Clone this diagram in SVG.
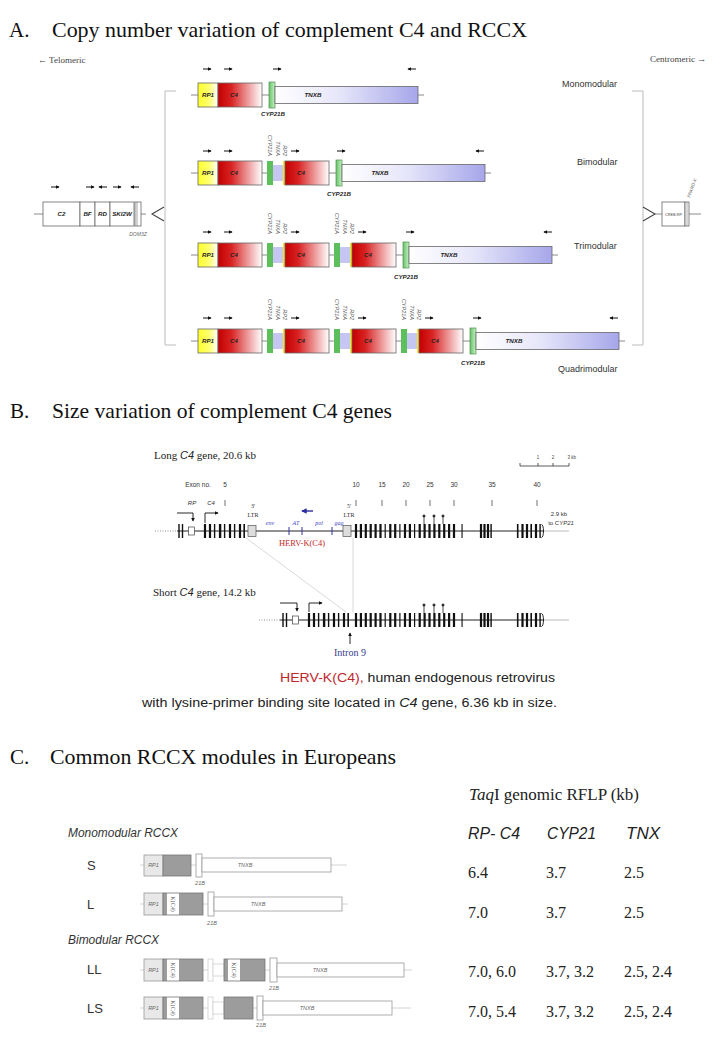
<svg xmlns="http://www.w3.org/2000/svg" width="726" height="1050" viewBox="0 0 726 1050">
<defs>
<linearGradient id="gY" x1="0" x2="1" y1="0" y2="0"><stop offset="0" stop-color="#ffff2a"/><stop offset="0.55" stop-color="#ffff70"/><stop offset="1" stop-color="#ffffff"/></linearGradient>
<linearGradient id="gR" x1="0" x2="1" y1="0" y2="0"><stop offset="0" stop-color="#c40000"/><stop offset="0.3" stop-color="#d82222"/><stop offset="1" stop-color="#ffffff"/></linearGradient>
<linearGradient id="gT" x1="0" x2="1" y1="0" y2="0"><stop offset="0" stop-color="#ffffff"/><stop offset="0.45" stop-color="#e6e6fa"/><stop offset="1" stop-color="#a6a6ea"/></linearGradient>
<linearGradient id="gG" x1="0" x2="1" y1="0" y2="0"><stop offset="0" stop-color="#66c266"/><stop offset="1" stop-color="#c8f0c8"/></linearGradient>
<marker id="ah" viewBox="0 0 6 6" refX="5" refY="3" markerWidth="4" markerHeight="4" orient="auto"><path d="M0,0L6,3L0,6z" fill="#111"/></marker>
<marker id="ahb" viewBox="0 0 6 6" refX="5" refY="3" markerWidth="4" markerHeight="4" orient="auto"><path d="M0,0L6,3L0,6z" fill="#2c2ca0"/></marker>
<style>
.ttl{font-family:"Liberation Serif",serif;font-size:21px;fill:#111}
.ln{stroke:#8a8a8a;stroke-width:1;fill:none}
.bx{stroke:#666;stroke-width:0.8}
.rp{fill:url(#gY)}.c4{fill:url(#gR)}.tn{fill:url(#gT)}
.cyb{fill:url(#gG);stroke:#4f8f4f;stroke-width:0.7}
.cya{fill:#5cbf5c}.tna{fill:#c6c6f2}.rp2{fill:#f2e23a}
.wb{fill:#fff;stroke:#666;stroke-width:0.8}
.gl{font-family:"Liberation Sans",sans-serif;font-size:6.2px;font-style:italic;font-weight:bold;fill:#222;text-anchor:middle}
.rl{font-family:"Liberation Sans",sans-serif;font-size:5.5px;font-style:italic;fill:#555;text-anchor:end}
.da{stroke:#111;stroke-width:1;fill:none;marker-end:url(#ah)}
.mod{font-family:"Liberation Sans",sans-serif;font-size:9px;fill:#333}
.tiny{font-family:"Liberation Serif",serif;font-size:9px;fill:#444}
.ar{font-family:"Liberation Sans",sans-serif;font-size:6.5px;fill:#333;text-anchor:middle}
.ari{font-family:"Liberation Sans",sans-serif;font-size:6px;font-style:italic;fill:#333;text-anchor:middle}
.ltr{font-family:"Liberation Serif",serif;font-size:6px;fill:#333;text-anchor:middle}
.hv{font-family:"Liberation Serif",serif;font-size:6px;font-style:italic;fill:#4444bb;text-anchor:middle}
.ex{fill:#111}
.bk{stroke:#111;stroke-width:0.9;fill:none;marker-end:url(#ah)}
.gs{font-family:"Liberation Serif",serif;font-size:11px;fill:#222}
.cap{font-family:"Liberation Sans",sans-serif;font-size:12px;fill:#222}
.val{font-family:"Liberation Serif",serif;font-size:16px;fill:#222}
.hdr{font-family:"Liberation Sans",sans-serif;font-size:17px;font-style:italic;fill:#222}
.grp{font-family:"Liberation Sans",sans-serif;font-size:12px;font-style:italic;fill:#333}
.rowl{font-family:"Liberation Sans",sans-serif;font-size:13px;fill:#333}
.cl{stroke:#d4d4d4;stroke-width:1;fill:none}
.crp{fill:#e8e8e8;stroke:#999;stroke-width:0.8}
.cc4{fill:#9c9c9c;stroke:#777;stroke-width:0.8}
.cw{fill:#fff;stroke:#999;stroke-width:0.8}
.cf{fill:#fff;stroke:#d0d0d0;stroke-width:0.8}
.cs{fill:#fff}
.clab{font-family:"Liberation Sans",sans-serif;font-size:5.5px;font-style:italic;fill:#666;text-anchor:middle}
.kc{font-family:"Liberation Serif",serif;font-size:6px;fill:#555;text-anchor:middle}
</style>
<g id="exPre">
<rect class="ex" x="178.3" y="0" width="1.4" height="14"/>
<rect class="ex" x="181.8" y="0" width="1.4" height="14"/>
<rect x="188.5" y="3" width="6" height="8" fill="#fff" stroke="#444" stroke-width="0.7"/>
<rect class="ex" x="203.9" y="0" width="2.2" height="14"/>
<rect class="ex" x="208.9" y="0" width="2.2" height="14"/>
<rect class="ex" x="213.9" y="0" width="1.4" height="14"/>
<rect class="ex" x="218.9" y="0" width="2.4" height="14"/>
<rect class="ex" x="223.9" y="0" width="1.4" height="14"/>
<rect class="ex" x="228.9" y="0" width="2.2" height="14"/>
<rect class="ex" x="233.9" y="0" width="1.4" height="14"/>
<rect class="ex" x="238.9" y="0" width="2.2" height="14"/>
<rect class="ex" x="243.4" y="0" width="1.6" height="14"/>
</g>
<g id="exPost">
<rect class="ex" x="354.9" y="0" width="2.2" height="14"/>
<rect class="ex" x="359.8" y="0" width="2.2" height="14"/>
<rect class="ex" x="364.7" y="0" width="2.2" height="14"/>
<rect class="ex" x="369.6" y="0" width="2.2" height="14"/>
<rect class="ex" x="374.5" y="0" width="2.2" height="14"/>
<rect class="ex" x="379.4" y="0" width="2.2" height="14"/>
<rect class="ex" x="384.6" y="0" width="1.2" height="14"/>
<rect class="ex" x="389.2" y="0" width="2.2" height="14"/>
<rect class="ex" x="394.1" y="0" width="2.2" height="14"/>
<rect class="ex" x="399.3" y="0" width="1.2" height="14"/>
<rect class="ex" x="403.9" y="0" width="2.2" height="14"/>
<rect class="ex" x="408.8" y="0" width="2.2" height="14"/>
<rect class="ex" x="414.0" y="0" width="1.2" height="14"/>
<rect class="ex" x="418.6" y="0" width="2.2" height="14"/>
<rect class="ex" x="423.5" y="0" width="2.2" height="14"/>
<rect class="ex" x="428.4" y="0" width="2.2" height="14"/>
<rect class="ex" x="433.3" y="0" width="2.2" height="14"/>
<rect class="ex" x="438.2" y="0" width="2.2" height="14"/>
<rect class="ex" x="443.1" y="0" width="2.2" height="14"/>
<rect class="ex" x="448.0" y="0" width="2.2" height="14"/>
<rect class="ex" x="452.9" y="0" width="2.2" height="14"/>
<rect class="ex" x="461.5" y="0" width="1.1" height="14"/>
<rect class="ex" x="479.9" y="0" width="2.2" height="14"/>
<rect class="ex" x="483.4" y="0" width="2.2" height="14"/>
<rect class="ex" x="486.9" y="0" width="2.2" height="14"/>
<rect class="ex" x="490.4" y="0" width="1.4" height="14"/>
<rect class="ex" x="516.9" y="0" width="1.6" height="14"/>
<rect class="ex" x="521.4" y="0" width="2.2" height="14"/>
<rect class="ex" x="525.9" y="0" width="2.2" height="14"/>
<rect class="ex" x="530.4" y="0" width="1.6" height="14"/>
<rect class="ex" x="534.9" y="0" width="2.2" height="14"/>
<rect class="ex" x="539.4" y="0" width="1.4" height="14"/>
<path d="M541.5,0.5a2,6.5 0 0 1 0,13" stroke="#111" stroke-width="0.9" fill="none"/>
</g>
<g id="lolli" stroke="#222" stroke-width="0.8" fill="#222">
<path d="M424,0V8M434,0V8M443,0V8"/>
<circle cx="424" cy="0" r="1.1"/><circle cx="434" cy="0" r="1.1"/><circle cx="443" cy="0" r="1.1"/>
</g>
</defs>
<rect width="726" height="1050" fill="#fff"/>

<!-- ===== Section A ===== -->
<g id="titleA">
<text class="ttl" x="9" y="37">A.</text>
<text class="ttl" x="52" y="37" textLength="475" lengthAdjust="spacingAndGlyphs">Copy number variation of complement C4 and RCCX</text>
<text class="tiny" x="38" y="63">← Telomeric</text>
<text class="tiny" x="650" y="62">Centromeric →</text>
</g>

<g id="connectors">
<path d="M176,91H165V345H176" stroke="#bbb" stroke-width="1" fill="none"/>
<path d="M632,91H643V345H632" stroke="#bbb" stroke-width="1" fill="none"/>
<path d="M164,207L152,214L164,221" stroke="#444" stroke-width="1.1" fill="none"/>
<path d="M643,207L655,214L643,221" stroke="#444" stroke-width="1.1" fill="none"/>
<path d="M246,538L346,612" stroke="#c8c8c8" stroke-width="0.7"/>
<path d="M353,538V612" stroke="#c8c8c8" stroke-width="0.7"/>
</g>

<g id="telomeric-genes">
<path class="ln" d="M34,214H43M141,214H146"/>
<rect class="wb" x="43" y="202" width="37" height="24"/>
<rect class="wb" x="80" y="202" width="15" height="24"/>
<rect class="wb" x="95" y="202" width="15" height="24"/>
<rect class="wb" x="110" y="202" width="24" height="24"/>
<rect class="wb" x="135" y="202" width="6" height="24"/>
<path d="M137,202V226" stroke="#666" stroke-width="0.6"/>
<text class="gl" x="61.5" y="216">C2</text>
<text class="gl" x="87.5" y="216">BF</text>
<text class="gl" x="102.5" y="216">RD</text>
<text class="gl" x="122" y="216">SKI2W</text>
<text class="clab" x="138" y="236" style="font-size:5px">DOM3Z</text>
<path class="da" d="M51,187h8"/>
<path class="da" d="M86,187h8"/>
<path class="da" d="M107,187h-8"/>
<path class="da" d="M113,187h8"/>
<path class="da" d="M139,187h-8"/>
</g>

<g id="centromeric-genes">
<path class="ln" d="M655,214H662M689,214H701"/>
<rect class="wb" x="662" y="202" width="23" height="24"/>
<rect class="wb" x="685" y="202" width="4" height="24"/>
<path d="M687,202V226" stroke="#666" stroke-width="0.5"/>
<text x="673.5" y="215.5" style="font-family:'Liberation Sans',sans-serif;font-size:3.8px;fill:#444;text-anchor:middle">CREB-RP</text>
<text transform="translate(690,198) rotate(-70)" style="font-family:'Liberation Sans',sans-serif;font-size:4.5px;font-style:italic;fill:#555">PPARD-X</text>
</g>

<g id="row-mono">
<path class="ln" d="M191,95H424"/>
<rect class="bx rp" x="198" y="83" width="20" height="24"/>
<rect class="bx c4" x="218" y="83" width="44" height="24"/>
<rect class="cyb" x="269" y="82" width="6" height="26"/>
<rect class="bx tn" x="275" y="86.5" width="143" height="17"/>
<text class="gl" x="208" y="97">RP1</text>
<text class="gl" x="234" y="97">C4</text>
<text class="gl" x="313" y="97">TNXB</text>
<text class="gl" x="273" y="116">CYP21B</text>
<path class="da" d="M203,69h8"/>
<path class="da" d="M224,69h8"/>
<path class="da" d="M273,69h8"/>
<path class="da" d="M416,69h-8"/>
<text class="mod" x="562" y="87">Monomodular</text>
</g>

<g id="row-bi">
<path class="ln" d="M191,173H491"/>
<rect class="bx rp" x="198" y="161" width="20" height="24"/>
<rect class="bx c4" x="218" y="161" width="44" height="24"/>
<rect class="cya" x="267" y="161" width="6" height="24"/>
<rect class="tna" x="273" y="165" width="10" height="16"/>
<rect class="rp2" x="283" y="161" width="2" height="24"/>
<rect class="bx c4" x="285" y="161" width="44" height="24"/>
<rect class="cyb" x="336" y="160" width="6" height="26"/>
<rect class="bx tn" x="342" y="164.5" width="143" height="17"/>
<text class="gl" x="208" y="175">RP1</text>
<text class="gl" x="234" y="175">C4</text>
<text class="gl" x="301" y="175">C4</text>
<text class="gl" x="380" y="175">TNXB</text>
<text class="gl" x="339" y="196">CYP21B</text>
<text class="rl" transform="translate(268,156) rotate(90)">CYP21A</text>
<text class="rl" transform="translate(276,156) rotate(90)">TNXA</text>
<text class="rl" transform="translate(283,156) rotate(90)">RP2</text>
<path class="da" d="M203,151h8"/>
<path class="da" d="M224,151h8"/>
<path class="da" d="M291,151h8"/>
<path class="da" d="M337,151h8"/>
<path class="da" d="M484,151h-8"/>
<text class="mod" x="577" y="165">Bimodular</text>
</g>

<g id="row-tri">
<path class="ln" d="M191,255H558"/>
<rect class="bx rp" x="198" y="243" width="20" height="24"/>
<rect class="bx c4" x="218" y="243" width="44" height="24"/>
<rect class="cya" x="267" y="243" width="6" height="24"/>
<rect class="tna" x="273" y="247" width="10" height="16"/>
<rect class="rp2" x="283" y="243" width="2" height="24"/>
<rect class="bx c4" x="285" y="243" width="44" height="24"/>
<rect class="cya" x="334" y="243" width="6" height="24"/>
<rect class="tna" x="340" y="247" width="10" height="16"/>
<rect class="rp2" x="350" y="243" width="2" height="24"/>
<rect class="bx c4" x="352" y="243" width="44" height="24"/>
<rect class="cyb" x="403" y="242" width="6" height="26"/>
<rect class="bx tn" x="409" y="246.5" width="143" height="17"/>
<text class="gl" x="208" y="257">RP1</text>
<text class="gl" x="234" y="257">C4</text>
<text class="gl" x="301" y="257">C4</text>
<text class="gl" x="368" y="257">C4</text>
<text class="gl" x="449" y="257">TNXB</text>
<text class="gl" x="406" y="279">CYP21B</text>
<text class="rl" transform="translate(268,234) rotate(90)">CYP21A</text>
<text class="rl" transform="translate(276,234) rotate(90)">TNXA</text>
<text class="rl" transform="translate(283,234) rotate(90)">RP2</text>
<text class="rl" transform="translate(335,234) rotate(90)">CYP21A</text>
<text class="rl" transform="translate(343,234) rotate(90)">TNXA</text>
<text class="rl" transform="translate(350,234) rotate(90)">RP2</text>
<path class="da" d="M203,232h8"/>
<path class="da" d="M224,232h8"/>
<path class="da" d="M291,232h8"/>
<path class="da" d="M358,232h8"/>
<path class="da" d="M406,232h8"/>
<path class="da" d="M552,232h-8"/>
<text class="mod" x="574" y="249">Trimodular</text>
</g>

<g id="row-quad">
<path class="ln" d="M191,341H625"/>
<rect class="bx rp" x="198" y="329" width="20" height="24"/>
<rect class="bx c4" x="218" y="329" width="44" height="24"/>
<rect class="cya" x="267" y="329" width="6" height="24"/>
<rect class="tna" x="273" y="333" width="10" height="16"/>
<rect class="rp2" x="283" y="329" width="2" height="24"/>
<rect class="bx c4" x="285" y="329" width="44" height="24"/>
<rect class="cya" x="334" y="329" width="6" height="24"/>
<rect class="tna" x="340" y="333" width="10" height="16"/>
<rect class="rp2" x="350" y="329" width="2" height="24"/>
<rect class="bx c4" x="352" y="329" width="44" height="24"/>
<rect class="cya" x="401" y="329" width="6" height="24"/>
<rect class="tna" x="407" y="333" width="10" height="16"/>
<rect class="rp2" x="417" y="329" width="2" height="24"/>
<rect class="bx c4" x="419" y="329" width="44" height="24"/>
<rect class="cyb" x="470" y="328" width="6" height="26"/>
<rect class="bx tn" x="476" y="332.5" width="143" height="17"/>
<text class="gl" x="208" y="343">RP1</text>
<text class="gl" x="234" y="343">C4</text>
<text class="gl" x="301" y="343">C4</text>
<text class="gl" x="368" y="343">C4</text>
<text class="gl" x="435" y="343">C4</text>
<text class="gl" x="514" y="343">TNXB</text>
<text class="gl" x="473" y="365">CYP21B</text>
<text class="rl" transform="translate(268,320) rotate(90)">CYP21A</text>
<text class="rl" transform="translate(276,320) rotate(90)">TNXA</text>
<text class="rl" transform="translate(283,320) rotate(90)">RP2</text>
<text class="rl" transform="translate(335,320) rotate(90)">CYP21A</text>
<text class="rl" transform="translate(343,320) rotate(90)">TNXA</text>
<text class="rl" transform="translate(350,320) rotate(90)">RP2</text>
<text class="rl" transform="translate(402,320) rotate(90)">CYP21A</text>
<text class="rl" transform="translate(410,320) rotate(90)">TNXA</text>
<text class="rl" transform="translate(417,320) rotate(90)">RP2</text>
<path class="da" d="M203,318h8"/>
<path class="da" d="M224,318h8"/>
<path class="da" d="M291,318h8"/>
<path class="da" d="M358,318h8"/>
<path class="da" d="M425,318h8"/>
<path class="da" d="M473,318h8"/>
<path class="da" d="M618,318h-8"/>
<text class="mod" x="558" y="372">Quadrimodular</text>
</g>

<!-- ===== Section B ===== -->
<g id="titleB">
<text class="ttl" x="10" y="418">B.</text>
<text class="ttl" x="52" y="418" textLength="340" lengthAdjust="spacingAndGlyphs">Size variation of complement C4 genes</text>
</g>

<g id="scale">
<path d="M520,466H569M520,466v-3M538,466v-3M553,466v-3M569,466v-3" stroke="#333" stroke-width="0.8" fill="none"/>
<text x="538" y="459" style="font-family:'Liberation Sans',sans-serif;font-size:4.5px;fill:#444;text-anchor:middle">1</text>
<text x="553" y="459" style="font-family:'Liberation Sans',sans-serif;font-size:4.5px;fill:#444;text-anchor:middle">2</text>
<text x="567.5" y="459" style="font-family:'Liberation Sans',sans-serif;font-size:4.5px;fill:#444">3 kb</text>
</g>

<g id="long-gene">
<text class="gs" x="154" y="459">Long <tspan font-style="italic" font-family="Liberation Sans, sans-serif">C4</tspan> gene, 20.6 kb</text>
<text class="ar" x="198" y="487">Exon no.</text>
<text class="ar" x="225" y="487">5</text>
<text class="ar" x="356" y="487">10</text>
<text class="ar" x="382" y="487">15</text>
<text class="ar" x="406" y="487">20</text>
<text class="ar" x="430" y="487">25</text>
<text class="ar" x="454" y="487">30</text>
<text class="ar" x="492" y="487">35</text>
<text class="ar" x="537" y="487">40</text>
<path d="M225,500v6M356,500v6M382,500v6M406,500v6M430,500v6M454,500v6M492,500v6M537,500v6" stroke="#333" stroke-width="0.7"/>
<text class="ari" x="192" y="505">RP</text>
<text class="ari" x="211" y="505">C4</text>
<text class="ltr" x="253" y="508">3'</text>
<text class="ltr" x="253" y="517">LTR</text>
<text class="ltr" x="349" y="508">5'</text>
<text class="ltr" x="349" y="517">LTR</text>
<path d="M313,511H302" stroke="#2c2ca0" stroke-width="1.4" marker-end="url(#ahb)"/>
<text class="hv" x="270" y="525">env</text>
<text class="hv" x="296" y="525">AT</text>
<text class="hv" x="319" y="525">pol</text>
<text class="hv" x="339" y="525">gag</text>
<path d="M155,531H177" stroke="#777" stroke-width="0.8" stroke-dasharray="1,1.5"/>
<path d="M177,531H544" stroke="#222" stroke-width="1"/>
<path d="M544,531H569" stroke="#aaa" stroke-width="0.8"/>
<use href="#exPre" transform="translate(0,524)"/>
<use href="#exPost" transform="translate(0,524)"/>
<rect x="248" y="525.5" width="8" height="11" fill="#ddd" stroke="#555" stroke-width="0.7"/>
<rect x="343" y="525.5" width="8" height="11" fill="#ddd" stroke="#555" stroke-width="0.7"/>
<path d="M289,527V535M302,527V535M332,527V535" stroke="#3333aa" stroke-width="1"/>
<use href="#lolli" transform="translate(0,516)"/>
<path class="bk" d="M177,513H193V521"/>
<path class="bk" d="M205,523V513H218"/>
<text class="ar" x="559" y="516" style="font-size:6px">2.9 kb</text>
<text class="ar" x="561" y="525" style="font-size:6px">to <tspan font-style="italic">CYP21</tspan></text>
<text x="302" y="546" style="font-family:'Liberation Serif',serif;font-size:8.5px;fill:#c62828;text-anchor:middle">HERV-K(C4)</text>
</g>

<g id="short-gene">
<text class="gs" x="153" y="596">Short <tspan font-style="italic" font-family="Liberation Sans, sans-serif">C4</tspan> gene, 14.2 kb</text>
<path d="M259,620H280" stroke="#777" stroke-width="0.8" stroke-dasharray="1,1.5"/>
<path d="M280,620H544" stroke="#222" stroke-width="1"/>
<path d="M544,620H569" stroke="#aaa" stroke-width="0.8"/>
<use href="#exPre" transform="translate(104,613)"/>
<use href="#exPost" transform="translate(0,613)"/>
<use href="#lolli" transform="translate(0,605)"/>
<path class="bk" d="M280,603H297V611"/>
<path class="bk" d="M309,612V603H322"/>
<path class="bk" d="M350,644V633"/>
<text x="350" y="656" style="font-family:'Liberation Serif',serif;font-size:10px;fill:#3b3b8f;text-anchor:middle">Intron 9</text>
</g>

<g id="captionB">
<text class="cap" x="280" y="682" textLength="275" lengthAdjust="spacingAndGlyphs"><tspan fill="#c0272d">HERV-K(C4),</tspan> human endogenous retrovirus</text>
<text class="cap" x="142" y="707" textLength="415" lengthAdjust="spacingAndGlyphs">with lysine-primer binding site located in <tspan font-style="italic">C4</tspan> gene, 6.36 kb in size.</text>
</g>

<!-- ===== Section C ===== -->
<g id="titleC">
<text class="ttl" x="10" y="764">C.</text>
<text class="ttl" x="50" y="764" textLength="346" lengthAdjust="spacingAndGlyphs">Common RCCX modules in Europeans</text>
</g>

<g id="rflp-table">
<text class="val" x="469" y="800" textLength="170" lengthAdjust="spacingAndGlyphs"><tspan font-style="italic">Taq</tspan>I genomic RFLP (kb)</text>
<text class="hdr" x="468" y="839" textLength="52" lengthAdjust="spacingAndGlyphs">RP- C4</text>
<text class="hdr" x="547" y="839" textLength="49" lengthAdjust="spacingAndGlyphs">CYP21</text>
<text class="hdr" x="626" y="839" textLength="34" lengthAdjust="spacingAndGlyphs">TNX</text>
<text class="val" x="468" y="878">6.4</text><text class="val" x="546" y="878">3.7</text><text class="val" x="624" y="878">2.5</text>
<text class="val" x="468" y="918">7.0</text><text class="val" x="546" y="918">3.7</text><text class="val" x="624" y="918">2.5</text>
<text class="val" x="468" y="977">7.0, 6.0</text><text class="val" x="546" y="977">3.7, 3.2</text><text class="val" x="624" y="977">2.5, 2.4</text>
<text class="val" x="468" y="1017">7.0, 5.4</text><text class="val" x="546" y="1017">3.7, 3.2</text><text class="val" x="624" y="1017">2.5, 2.4</text>
</g>

<g id="labelsC">
<text class="grp" x="68" y="837" textLength="110" lengthAdjust="spacingAndGlyphs">Monomodular RCCX</text>
<text class="grp" x="68" y="944" textLength="91" lengthAdjust="spacingAndGlyphs">Bimodular RCCX</text>
<text class="rowl" x="87" y="870">S</text>
<text class="rowl" x="87" y="909">L</text>
<text class="rowl" x="87" y="974">LL</text>
<text class="rowl" x="87" y="1013">LS</text>
</g>

<g id="mod-S">
<path class="cl" d="M140,865H347"/>
<rect class="crp" x="144" y="855" width="19" height="21"/>
<rect class="cc4" x="163" y="855" width="28" height="21"/>
<rect class="cw" x="196" y="854" width="6" height="23"/>
<rect class="cw" x="202" y="858" width="129" height="14"/>
<text class="clab" x="153.5" y="867">RP1</text>
<text class="clab" x="245" y="867">TNXB</text>
<text class="clab" x="200" y="885">21B</text>
</g>

<g id="mod-L">
<path class="cl" d="M140,904H348"/>
<rect class="crp" x="144" y="893" width="19" height="22"/>
<rect class="cc4" x="163" y="893" width="40" height="22"/>
<rect class="cs" x="167" y="893.5" width="12" height="21"/>
<text class="kc" transform="translate(171,904) rotate(90)">K(C4)</text>
<rect class="cw" x="208" y="892" width="6" height="24"/>
<rect class="cw" x="214" y="897" width="128" height="14"/>
<text class="clab" x="153.5" y="906">RP1</text>
<text class="clab" x="258" y="906">TNXB</text>
<text class="clab" x="212" y="925">21B</text>
</g>

<g id="mod-LL">
<path class="cl" d="M140,970H412"/>
<rect class="crp" x="144" y="959" width="19" height="22"/>
<rect class="cc4" x="163" y="959" width="40" height="22"/>
<rect class="cs" x="167" y="959.5" width="12" height="21"/>
<text class="kc" transform="translate(171,970) rotate(90)">K(C4)</text>
<rect class="cf" x="208" y="959" width="5" height="22"/>
<rect class="cf" x="213" y="964" width="11" height="12"/>
<rect class="cc4" x="224" y="959" width="41" height="22"/>
<rect class="cs" x="228" y="959.5" width="12" height="21"/>
<text class="kc" transform="translate(232,970) rotate(90)">K(C4)</text>
<rect class="cw" x="270" y="958" width="7" height="24"/>
<rect class="cw" x="277" y="963" width="127" height="14"/>
<text class="clab" x="153.5" y="972">RP1</text>
<text class="clab" x="320" y="972">TNXB</text>
<text class="clab" x="274" y="990">21B</text>
</g>

<g id="mod-LS">
<path class="cl" d="M140,1008H411"/>
<rect class="crp" x="144" y="997" width="19" height="22"/>
<rect class="cc4" x="163" y="997" width="40" height="22"/>
<rect class="cs" x="167" y="997.5" width="12" height="21"/>
<text class="kc" transform="translate(171,1008) rotate(90)">K(C4)</text>
<rect class="cf" x="208" y="997" width="5" height="22"/>
<rect class="cf" x="213" y="1002" width="11" height="12"/>
<rect class="cc4" x="224" y="997" width="29" height="22"/>
<rect class="cw" x="257" y="996" width="6" height="24"/>
<rect class="cw" x="263" y="1001" width="129" height="14"/>
<text class="clab" x="153.5" y="1010">RP1</text>
<text class="clab" x="307" y="1010">TNXB</text>
<text class="clab" x="261" y="1027">21B</text>
</g>
</svg>
